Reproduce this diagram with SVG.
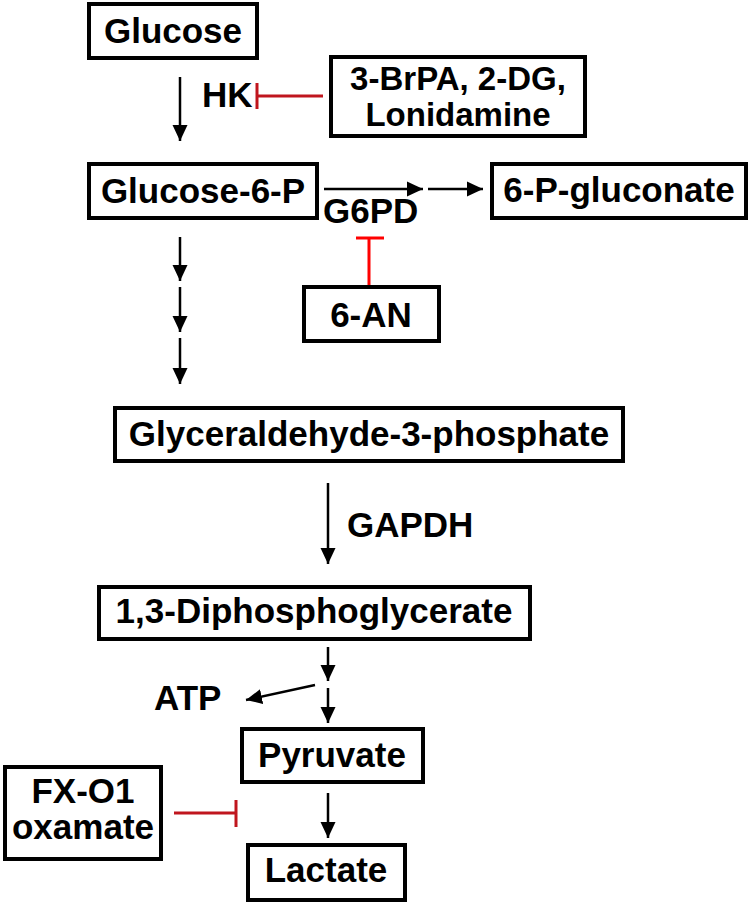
<svg xmlns="http://www.w3.org/2000/svg" width="750" height="903" viewBox="0 0 750 903">
<defs>
<style>
.box{fill:#fff;stroke:#000;stroke-width:4}
.t{font-family:"Liberation Sans",Arial,sans-serif;font-weight:bold;font-size:35px;fill:#000}
.s{font-size:33px}
.c{text-anchor:middle}
.a{stroke:#000;stroke-width:2.5;fill:none;marker-end:url(#ah)}
.inh{stroke:#c0161e;stroke-width:3;fill:none}
.inh2{stroke:#ff0000;stroke-width:3;fill:none}
</style>
<marker id="ah" viewBox="0 0 16 16" refX="16" refY="8" markerWidth="16" markerHeight="16" markerUnits="userSpaceOnUse" orient="auto">
<path d="M0,0.5 L16,8 L0,15.5 z" fill="#000"/>
</marker>
</defs>
<rect width="750" height="903" fill="#fff"/>

<g id="connectors">
<line class="a" x1="180" y1="77" x2="180" y2="141"/>
<line class="a" x1="180" y1="237" x2="180" y2="281"/>
<line class="a" x1="180" y1="287" x2="180" y2="332"/>
<line class="a" x1="180" y1="338" x2="180" y2="384"/>
<line class="a" x1="324" y1="189" x2="423" y2="189"/>
<line class="a" x1="428" y1="189" x2="483" y2="189"/>
<line class="a" x1="328" y1="483" x2="328" y2="564"/>
<line class="a" x1="328" y1="647" x2="328" y2="681"/>
<line class="a" x1="328" y1="688" x2="328" y2="723"/>
<line class="a" x1="315" y1="685" x2="246" y2="700"/>
<line class="a" x1="328" y1="793" x2="328" y2="838"/>
<path class="inh" d="M323,96 H257 M257,83 V109"/>
<path class="inh2" d="M369,285 V238 M356,238 H384"/>
<path class="inh" d="M174,813 H236 M236,800 V827"/>
</g>

<g id="labels">
<text class="t" x="202" y="107">HK</text>
<text class="t" x="323" y="223">G6PD</text>
<text class="t" x="347" y="537">GAPDH</text>
<text class="t" x="154" y="710">ATP</text>
</g>

<g id="glucose"><rect class="box" x="89" y="4" width="168" height="54"/><text class="t c" x="173" y="43">Glucose</text></g>
<g id="hk-inhibitors"><rect class="box" x="331" y="57" width="254" height="79"/><text class="t s c" x="458" y="90">3-BrPA, 2-DG,</text><text class="t s c" x="458" y="126">Lonidamine</text></g>
<g id="glucose-6-p"><rect class="box" x="89" y="164" width="228" height="54"/><text class="t c" x="203" y="203">Glucose-6-P</text></g>
<g id="gluconate"><rect class="box" x="492" y="164" width="254" height="54"/><text class="t c" x="619" y="202">6-P-gluconate</text></g>
<g id="an6"><rect class="box" x="304" y="287" width="135" height="54"/><text class="t c" x="371" y="327">6-AN</text></g>
<g id="g3p"><rect class="box" x="115" y="408" width="508" height="53"/><text class="t c" x="369" y="446">Glyceraldehyde-3-phosphate</text></g>
<g id="dpg"><rect class="box" x="99" y="587" width="431" height="52"/><text class="t c" x="314" y="623">1,3-Diphosphoglycerate</text></g>
<g id="pyruvate"><rect class="box" x="242" y="729" width="181" height="53"/><text class="t c" x="332" y="767">Pyruvate</text></g>
<g id="lactate"><rect class="box" x="248" y="845" width="157" height="55"/><text class="t c" x="326" y="882">Lactate</text></g>
<g id="fx"><rect class="box" x="5" y="767" width="156" height="92"/><text class="t c" x="83" y="803">FX-O1</text><text class="t c" x="83" y="839">oxamate</text></g>
</svg>
